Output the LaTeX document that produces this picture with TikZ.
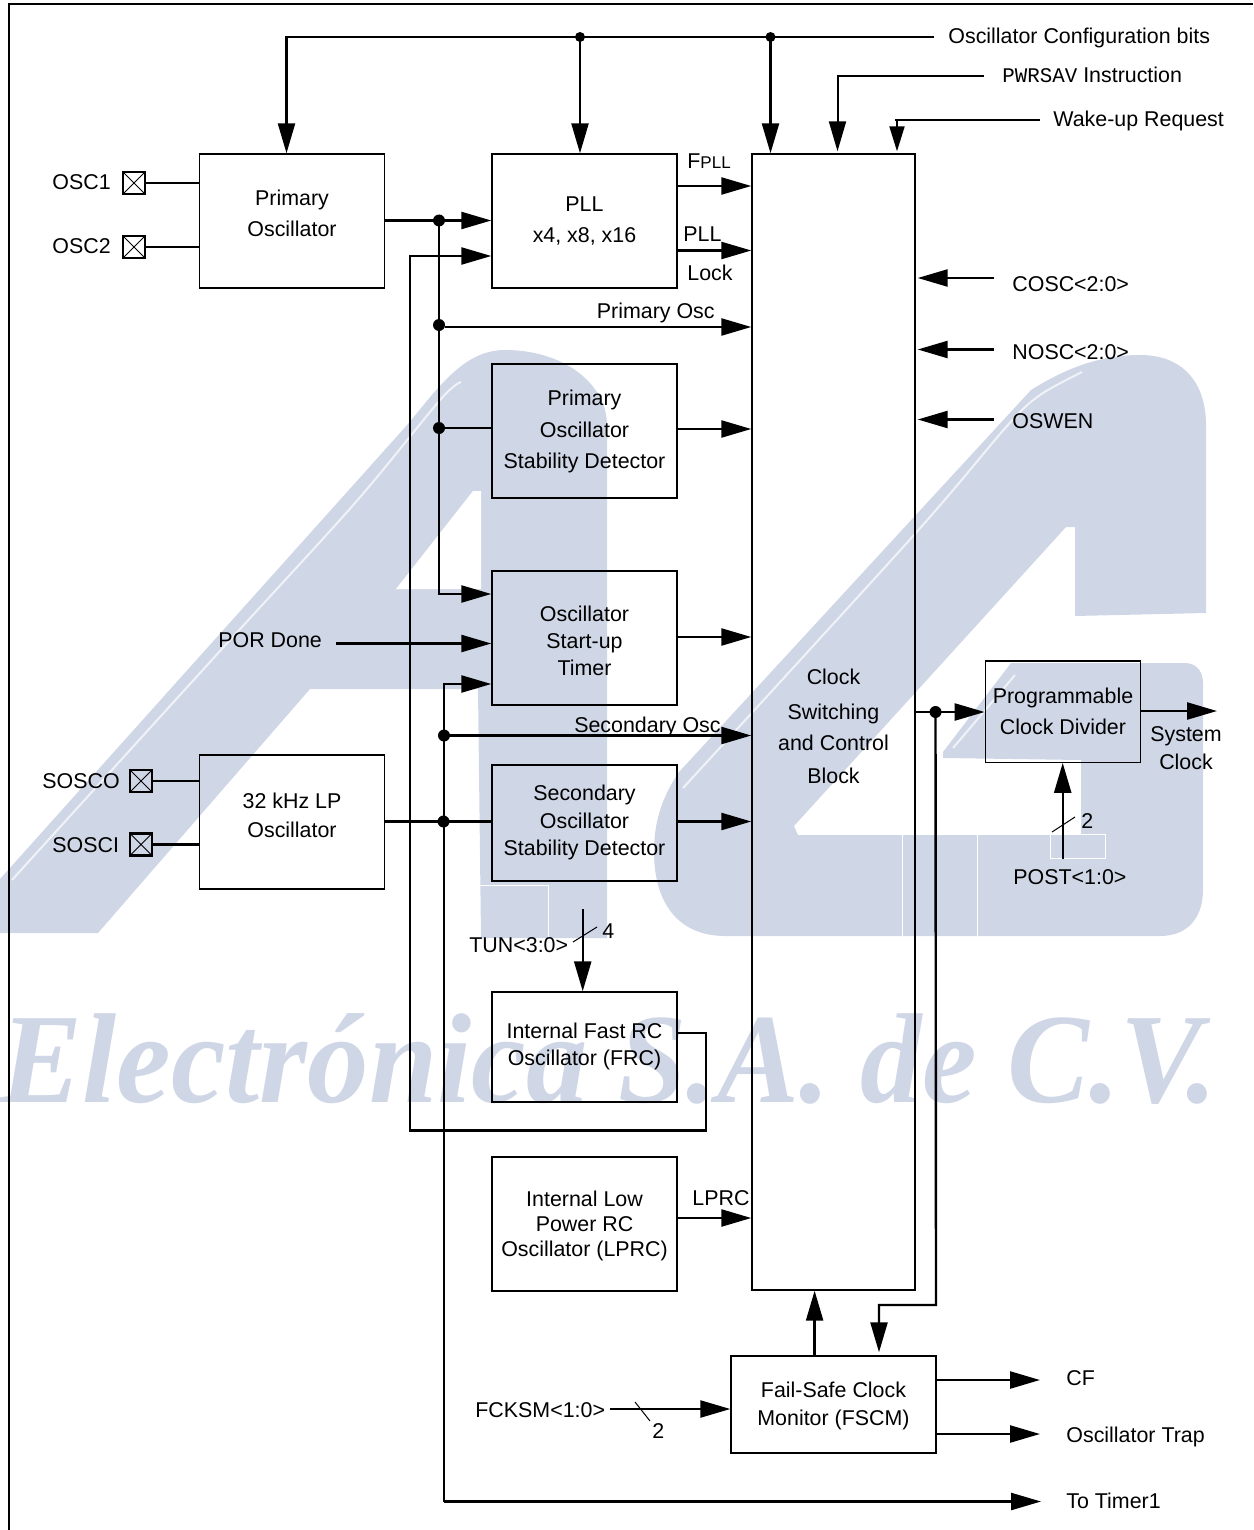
\documentclass[tikz,border=0pt]{standalone}
\usepackage{fontspec}
\setmainfont{Liberation Sans}
\newfontfamily\wmfont{Liberation Serif}
\newfontfamily\codefont{Liberation Mono}
\usepackage{tikz}
\usetikzlibrary{arrows.meta}
\usetikzlibrary{calc}
\definecolor{wmblue}{RGB}{207,214,230}
\tikzset{
  wire/.style={line width=1.2pt},
  blk/.style={draw,line width=0.7pt,inner sep=0pt,align=center},
  lines/.style={font=\fontsize{10.7}{#1}\selectfont},
  lbl/.style={inner sep=0pt,anchor=west,font=\fontsize{10.7}{13}\selectfont,text height=7.8pt,text depth=0pt},
  tick/.style={line width=0.5pt},
  junc/.style={circle,fill=black,inner sep=0pt,minimum size=6pt},
  padbox/.style={draw,line width=1.1pt,inner sep=0pt,minimum width=11pt,minimum height=11pt,
    path picture={\draw[line width=0.5pt]
      (path picture bounding box.north west) -- (path picture bounding box.south east)
      (path picture bounding box.north east) -- (path picture bounding box.south west);}},
}
\begin{document}
\begin{tikzpicture}[x=0.5pt,y=-0.5pt,>={Triangle[length=15pt,width=8.5pt]}]
  \useasboundingbox (0,0) rectangle (1253,1530);
  % watermark
  \fill[wmblue] (0,879) -- (408,424) .. controls (440,385) and (465,350) .. (505,350)
    .. controls (565,350) and (607,385) .. (607,425) -- (607,938) -- (481,938) -- (478,689)
    -- (310,689) -- (98,933) -- (0,933) -- cycle;
  \fill[white] (473,491) -- (481,491) -- (481,589) -- (396,589) -- cycle;
  \fill[wmblue] (679,772) .. controls (660,800) and (654,825) .. (654,852)
    .. controls (654,905) and (680,936) .. (725,936) -- (1160,936)
    .. controls (1190,936) and (1203,915) .. (1203,890) -- (1203,683)
    .. controls (1203,670) and (1195,663) .. (1185,663) -- (1011,663) -- (943,752) -- (943,758)
    -- (1081,760) -- (1081,835) -- (798,835) -- (794,826) -- (1066,527) -- (1075,527) -- (1075,616)
    -- (1206,613) -- (1206,425) .. controls (1206,385) and (1185,355) .. (1140,355)
    .. controls (1095,355) and (1060,372) .. (1031,390) -- cycle;
  \draw[white,line width=1pt,opacity=0.7] plot[smooth] coordinates {(12,880) (41,848) (220,651) (355,503) (440,400) (461,382)};
  \draw[white,line width=1pt,opacity=0.7] plot[smooth] coordinates {(683,788) (914,535) (1007,426) (1040,395) (1082,372)};
  \draw[white,line width=1pt,opacity=0.7] (1015,675) -- (953,748);
  \draw[white,line width=0.5pt] (477,938) -- (477,885) -- (548,885) -- (548,938);
  \draw[white,line width=0.5pt] (1050,858) rectangle (1105,834);
  \draw[white,line width=0.5pt] (902,835) -- (902,936);
  \draw[white,line width=0.5pt] (977,835) -- (977,936);
  \node[text=wmblue,inner sep=0pt,anchor=base west] (wmtext) at (0,1102)
    {\scalebox{0.96}[1]{\fontsize{64}{64}\wmfont\bfseries\itshape Electrónica S.A. de C.V.}};
  % frame
  \draw[line width=1.1pt] (9,1530) -- (9,4) -- (1253,4);
  % blocks
  \node[blk,lines=15.5,minimum width=92.5pt,minimum height=67pt,text depth=7.7pt] (pri) at (292,221) {Primary\\Oscillator};
  \node[blk,lines=15.5,minimum width=92.5pt,minimum height=67pt,text depth=1.7pt] (pll) at (584.5,221) {PLL\\x4, x8, x16};
  \node[blk,lines=15.75,minimum width=92.5pt,minimum height=67pt,text depth=1.7pt] (psd) at (584.5,431) {Primary\\Oscillator\\Stability Detector};
  \node[blk,lines=13.5,minimum width=92.5pt,minimum height=67pt,text height=37.7pt] (ost) at (584.5,638) {Oscillator\\Start-up\\Timer};
  \node[blk,lines=14.5,minimum width=92.5pt,minimum height=67pt,text depth=6.7pt] (lpo) at (292,822) {32 kHz LP\\Oscillator};
  \node[blk,lines=13.75,minimum width=92.5pt,minimum height=58pt,text depth=2.7pt] (ssd) at (584.5,823) {Secondary\\Oscillator\\Stability Detector};
  \node[blk,lines=13.5,minimum width=92.5pt,minimum height=55pt,text depth=2.7pt] (frc) at (584.5,1047) {Internal Fast RC\\Oscillator (FRC)};
  \node[blk,lines=12.5,minimum width=92.5pt,minimum height=67pt,text depth=0.2pt] (lprc) at (584.5,1224) {Internal Low\\Power RC\\Oscillator (LPRC)};
  \node[blk,lines=16,minimum width=81.5pt,minimum height=568pt,text height=61.7pt,text depth=0pt] (csw) at (833.5,722)
    {Clock\\[1.5pt]Switching\\[-0.5pt]and Control\\[0.5pt]Block};
  \node[blk,lines=15.5,minimum width=77.7pt,minimum height=50.7pt] (div) at (1063,711.5) {Programmable\\Clock Divider};
  \node[blk,lines=14,minimum width=102.5pt,minimum height=48.5pt,text depth=0.7pt] (fscm) at (833.5,1404.5) {Fail-Safe Clock\\Monitor (FSCM)};
  % pins
  \node[padbox] (osca) at (134,183) {};
  \node[padbox] (oscb) at (134,247) {};
  \node[padbox] (sosca) at (141,781) {};
  \node[padbox] (soscb) at (141,844.5) {};
  \node[lbl] (oscalbl) at (52,182) {OSC1};
  \node[lbl] (oscblbl) at (52,246) {OSC2};
  \node[lbl] (soscalbl) at (42,781) {SOSCO};
  \node[lbl] (soscblbl) at (52,845) {SOSCI};
  \draw[wire] (osca.east) -- (osca.east -| pri.west);
  \draw[wire] (oscb.east) -- (oscb.east -| pri.west);
  \draw[wire] (sosca.east) -- (sosca.east -| lpo.west);
  \draw[wire] (soscb.east) -- (soscb.east -| lpo.west);
  % inputs along the top
  \node[lbl] (cfg) at (948,36) {Oscillator Configuration bits};
  \node[lbl] (pwr) at (1002,75) {{\fontsize{10.4}{13}\codefont PWRSAV} Instruction};
  \node[lbl] (wake) at (1053,119) {Wake-up Request};
  \node[junc,minimum size=5pt] (busa) at (580,37) {};
  \node[junc,minimum size=5pt] (busb) at (770.5,37) {};
  \coordinate (busl) at (286.5,37);
  \coordinate (pwrc) at (837.5,76);
  \coordinate (wakec) at (894.5,120);
  \coordinate (wakeh) at (897,120);
  \draw[wire,->] ([xshift=-7pt]cfg.west |- busa) -- (busl) -- (busl |- pri.north);
  \draw[wire,->] (busa.center) -- (busa |- pll.north);
  \draw[wire,->] (busb.center) -- (busb |- csw.north);
  \draw[line width=1pt,->] ([xshift=-9pt,yshift=-0.5pt]pwr.west) -- (pwrc) -- ($(pwrc |- csw.north)+(0,-2)$);
  \draw[line width=1pt] ([xshift=-6.5pt,yshift=-0.5pt]wake.west) -- (wakec);
  \draw[line width=1pt,-{Triangle[length=12.5pt,width=7.5pt]}] (wakeh) -- ($(wakeh |- csw.north)+(0,-2)$);
  % primary oscillator path
  \node[junc] (pa) at (439,220.5) {};
  \node[junc] (pb) at (439,325) {};
  \node[junc] (pc) at (439,428) {};
  \coordinate (pd) at (439,594);
  \draw[wire,->] (pri.east |- pa) -- (pll.west |- pa);
  \draw[wire,->] (pa.center) -- (pd) -- (ost.west |- pd);
  \draw[wire,->] (pb.east |- 0,327) -- (csw.west |- 0,327);
  \draw[wire] (pc.center) -- ([xshift=1pt]psd.west |- pc);
  \node[lbl,anchor=east] (prilbl) at (715,311) {Primary Osc};
  % return from the fast RC oscillator
  \coordinate (ra) at (410,256);
  \coordinate (rb) at (410,1130.5);
  \coordinate (rc) at (706,1130.5);
  \coordinate (rd) at (706,1033);
  \draw[wire,->] (frc.east |- rd) -- (rd) -- (rc) -- (rb) -- (ra) -- (pll.west |- ra);
  % secondary oscillator path
  \node[junc] (sa) at (444,735.5) {};
  \node[junc] (sb) at (443.5,821.5) {};
  \coordinate (sc) at (444,684);
  \coordinate (sd) at (444,1501.5);
  \node[lbl] (tmr) at (1066,1501) {To Timer1};
  \draw[wire,->] (sd) -- (sc) -- (ost.west |- sc);
  \draw[wire,->] (sd) -- ([xshift=-12.5pt]tmr.west |- sd);
  \draw[wire,->] (sa.center) -- (csw.west |- sa);
  \draw[wire] (lpo.east |- sb) -- (ssd.west |- sb);
  \node[lbl,anchor=east] (seclbl) at (721,725) {Secondary Osc};
  % blocks into the clock switch
  \coordinate (oa) at (677,186);
  \coordinate (ob) at (677,250.5);
  \coordinate (oc) at (677,429);
  \coordinate (od) at (677,637);
  \coordinate (oe) at (677,821.5);
  \coordinate (of) at (677,1218);
  \draw[wire,->] (oa) -- (csw.west |- oa);
  \draw[wire,->] (ob) -- (csw.west |- ob);
  \draw[wire,->] (oc) -- (csw.west |- oc);
  \draw[wire,->] (od) -- (csw.west |- od);
  \draw[wire,->] (oe) -- (csw.west |- oe);
  \draw[wire,->] (of) -- (csw.west |- of);
  \node[lbl] (fplllbl) at (687,161) {F{\fontsize{8.5}{10}\selectfont PLL}};
  \node[lbl] (plllbl) at (683,234) {PLL};
  \node[lbl] (locklbl) at (687,273) {Lock};
  \node[lbl] (lprclbl) at (692,1198) {LPRC};
  % POR and tuning
  \node[lbl] (por) at (218,640) {POR Done};
  \coordinate (porc) at (336,643.5);
  \draw[wire,->] (porc) -- (ost.west |- porc);
  \node[lbl] (tun) at (469,945) {TUN<3:0>};
  \node[lbl] (tunn) at (602,931) {4};
  \coordinate (tuna) at (582.7,909);
  \draw[wire,->] (tuna) -- (tuna |- frc.north);
  \draw[tick] (573,942) -- (597,927);
  % status bits on the right
  \node[lbl] (cosc) at (1012,284) {COSC<2:0>};
  \node[lbl] (nosc) at (1012,352) {NOSC<2:0>};
  \node[lbl] (oswen) at (1012,421) {OSWEN};
  \draw[wire,->] (994,278) -- ($(csw.east |- 0,278)+(2,0)$);
  \draw[wire,->] (994,349.5) -- ($(csw.east |- 0,349.5)+(2,0)$);
  \draw[wire,->] (994,419.5) -- ($(csw.east |- 0,419.5)+(2,0)$);
  % clock output and divider
  \node[junc] (ck) at (935.5,712) {};
  \coordinate (cka) at (936,1305);
  \coordinate (ckb) at (879,1305);
  \draw[wire,->] (csw.east |- ck) -- (div.west |- ck);
  \draw[wire,->] (ck.center) -- (cka) -- (ckb) -- ($(ckb |- fscm.north)+(0,-3)$);
  \draw[wire,->] (fscm.north -| 814.6,0) -- (814.6,0 |- csw.south);
  \node[lines=14,align=center,inner sep=0pt] (syslbl) at (1186,748) {System\\Clock};
  \coordinate (divo) at (1217,711);
  \draw[wire,->] (div.east |- divo) -- (divo);
  \node[lbl] (post) at (1013,877) {POST<1:0>};
  \node[lbl] (postn) at (1081,821) {2};
  \coordinate (posta) at (1062.7,859);
  \draw[wire,->] (posta) -- (posta |- div.south);
  \draw[tick] (1052,832) -- (1075,817);
  % fail-safe monitor
  \node[lbl] (fck) at (475,1410) {FCKSM<1:0>};
  \node[lbl] (fckn) at (652,1431) {2};
  \node[lbl] (cf) at (1066,1378) {CF};
  \node[lbl] (trap) at (1066,1435) {Oscillator Trap};
  \draw[wire,->] (610,1409) -- (fscm.west |- 0,1409);
  \draw[tick] (635,1402) -- (650,1421);
  \draw[wire,->] (fscm.east |- 0,1380) -- ([xshift=-13pt]cf.west |- 0,1380);
  \draw[wire,->] (fscm.east |- 0,1434) -- ([xshift=-13pt]trap.west |- 0,1434);
\end{tikzpicture}
\end{document}
